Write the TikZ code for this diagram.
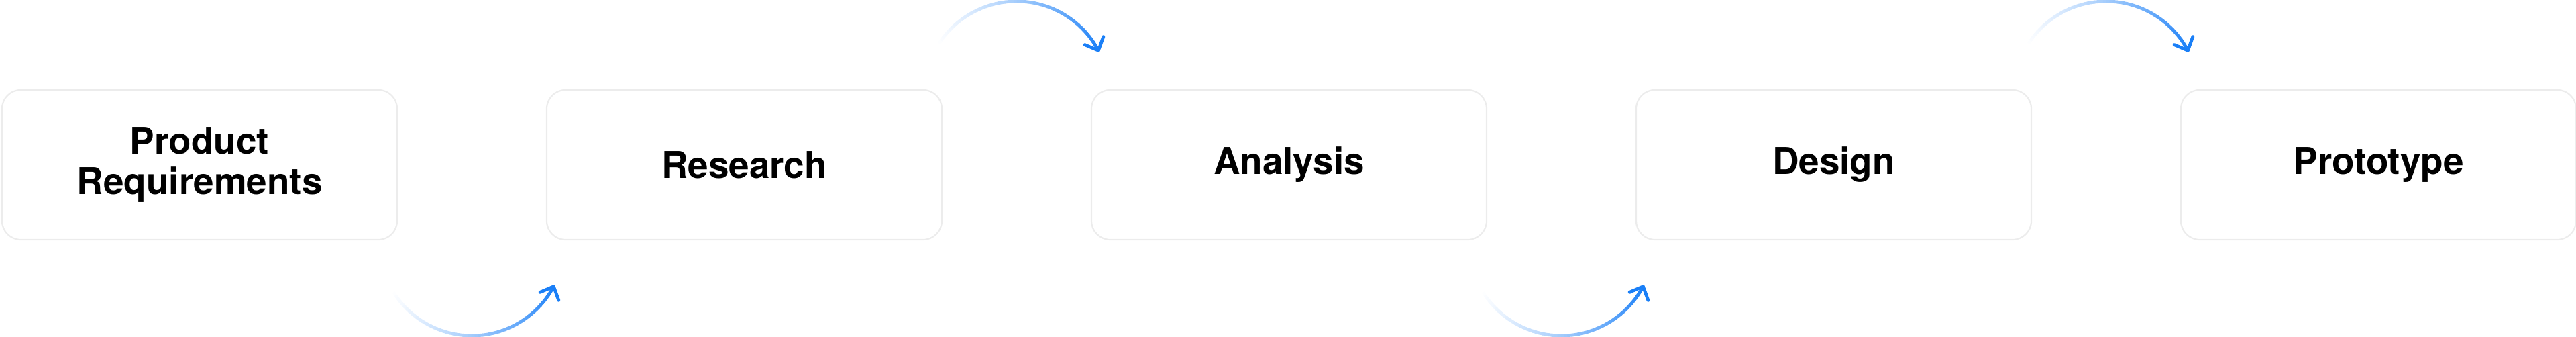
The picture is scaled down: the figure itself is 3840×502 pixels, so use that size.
\documentclass[tikz,border=0pt]{standalone}
\usepackage{fontspec}
\setmainfont{TeX Gyre Heros}
\usetikzlibrary{calc}
\definecolor{arrowblue}{RGB}{26,127,247}
\definecolor{boxline}{RGB}{236,236,236}
\newcommand\gradarc[3]{%
  \foreach \k in {1,...,60}{%
    \pgfmathsetmacro\aa{#2+(#3-(#2))*(\k-1)/60}%
    \pgfmathsetmacro\bb{#2+(#3-(#2))*\k/60}%
    \pgfmathtruncatemacro\pp{100*((\k-0.5)/60)^1.3}%
    \draw[flowline, color=arrowblue!\pp!white] ($(#1)+(\aa:34.5pt)$) arc[start angle=\aa, end angle=\bb, radius=34.5pt];
  }}
\begin{document}
\begin{tikzpicture}[x=0.25pt,y=0.25pt,
  stepbox/.style={draw=boxline, line width=0.55pt, rounded corners=7pt,
    minimum width=147.25pt, minimum height=55.75pt, inner sep=0pt,
    align=center, font=\fontsize{13.7pt}{15pt}\selectfont\bfseries, text=black},
  flowline/.style={line width=1.2pt, line cap=round},
  headline/.style={line width=1.2pt, line cap=round, line join=round, draw=arrowblue}]
\useasboundingbox (0,0) rectangle (3840,502);
\node[stepbox] (b1) at (297.5,256.5) {Product\\Requirements};
\node[stepbox] (b2) at (1109.5,256.5) {Research};
\node[stepbox] (b3) at (1921.5,256.5) {Analysis};
\node[stepbox] (b4) at (2733.5,256.5) {Design};
\node[stepbox] (b5) at (3545.5,256.5) {Prototype};
% arc centres between boxes
\coordinate (c12) at ($($(b1.east)!0.5!(b2.west)$)+(0,-116.5)$);
\coordinate (c23) at ($($(b2.east)!0.5!(b3.west)$)+(0,105.5)$);
\coordinate (c34) at ($($(b3.east)!0.5!(b4.west)$)+(0,-116.5)$);
\coordinate (c45) at ($($(b4.east)!0.5!(b5.west)$)+(0,105.5)$);
% connectors
\gradarc{c12}{209}{332}
\gradarc{c23}{150}{28}
\gradarc{c34}{209}{332}
\gradarc{c45}{150}{28}
% arrow heads
\coordinate (t12) at ($(c12)+(332:34.5pt)$);
\coordinate (t23) at ($(c23)+(28:34.5pt)$);
\coordinate (t34) at ($(c34)+(332:34.5pt)$);
\coordinate (t45) at ($(c45)+(28:34.5pt)$);
\draw[headline] ($(t12)+(203:5.5pt)$) -- (t12) -- ($(t12)+(290:5.5pt)$);
\draw[headline] ($(t34)+(203:5.5pt)$) -- (t34) -- ($(t34)+(290:5.5pt)$);
\draw[headline] ($(t23)+(157:5.5pt)$) -- (t23) -- ($(t23)+(70:5.5pt)$);
\draw[headline] ($(t45)+(157:5.5pt)$) -- (t45) -- ($(t45)+(70:5.5pt)$);
\end{tikzpicture}
\end{document}
